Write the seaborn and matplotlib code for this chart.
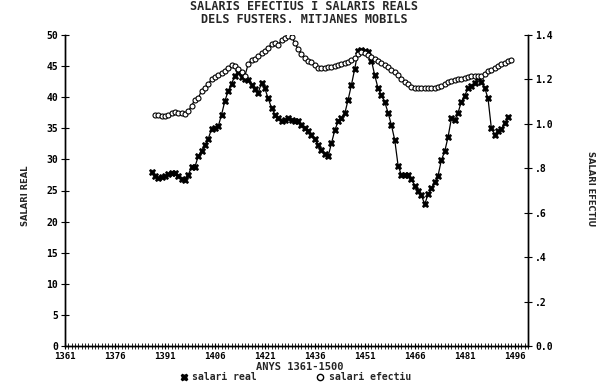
import numpy as np
import pandas as pd
import matplotlib
matplotlib.use("Agg")
import matplotlib.pyplot as plt
from matplotlib.lines import Line2D
import seaborn as sns

# ---------------- data ----------------
years_real = list(range(1387, 1495))
salari_real = [
    27.9, 27.4, 27.0, 27.1, 27.3, 27.6, 27.8, 27.8, 27.3, 26.8,
    26.7, 27.5, 28.8, 28.8, 30.5, 31.4, 32.3, 33.3, 34.9, 35.1,
    35.3, 37.2, 39.4, 41.0, 42.2, 43.4, 44.0, 43.3, 43.0, 42.8,
    42.0, 41.3, 40.7, 42.3, 41.4, 39.8, 38.3, 37.2, 36.6, 36.1,
    36.3, 36.6, 36.4, 36.2, 36.1, 35.5, 35.1, 34.5, 34.0, 33.2,
    32.3, 31.5, 30.8, 30.5, 32.6, 34.7, 36.1, 36.6, 37.4, 39.6,
    42.0, 44.6, 47.5, 47.6, 47.4, 47.3, 45.9, 43.5, 41.4, 40.3,
    39.2, 37.5, 35.5, 33.1, 29.0, 27.5, 27.5, 27.5, 26.8, 25.8,
    25.0, 24.2, 22.8, 24.4, 25.4, 26.3, 27.4, 29.9, 31.3, 33.6,
    36.6, 36.3, 37.5, 39.3, 40.2, 41.5, 41.8, 42.3, 43.3, 42.5,
    41.5, 39.8, 35.0, 34.0, 34.5, 34.9, 35.8, 36.8,
]

years_efectiu = list(range(1388, 1496))
salari_efectiu = [
    1.040, 1.038, 1.036, 1.036, 1.042, 1.049, 1.054, 1.051, 1.047, 1.046,
    1.056, 1.082, 1.108, 1.115, 1.150, 1.163, 1.180, 1.200, 1.210, 1.222,
    1.229, 1.240, 1.253, 1.264, 1.262, 1.248, 1.235, 1.215, 1.270, 1.286,
    1.292, 1.305, 1.320, 1.326, 1.343, 1.358, 1.363, 1.356, 1.376, 1.388,
    1.397, 1.393, 1.365, 1.335, 1.316, 1.295, 1.284, 1.277, 1.265, 1.253,
    1.250, 1.252, 1.256, 1.258, 1.262, 1.265, 1.270, 1.275, 1.280, 1.286,
    1.295, 1.315, 1.323, 1.318, 1.312, 1.302, 1.294, 1.284, 1.274, 1.264,
    1.254, 1.244, 1.233, 1.220, 1.204, 1.189, 1.179, 1.168, 1.160, 1.160,
    1.160, 1.160, 1.160, 1.160, 1.162, 1.166, 1.172, 1.180, 1.188, 1.193,
    1.197, 1.200, 1.204, 1.208, 1.211, 1.215, 1.216, 1.216, 1.214, 1.225,
    1.236, 1.244, 1.250, 1.260, 1.268, 1.276, 1.282, 1.288,
]

x_ticks = [1361, 1376, 1391, 1406, 1421, 1436, 1451, 1466, 1481, 1496]
left_ticks = [0, 5, 10, 15, 20, 25, 30, 35, 40, 45, 50]
right_ticks = [0.0, 0.2, 0.4, 0.6, 0.8, 1.0, 1.2, 1.4]
right_tick_labels = ["0.0", ".2", ".4", ".6", ".8", "1.0", "1.2", "1.4"]

title = "SALARIS EFECTIUS I SALARIS REALS\nDELS FUSTERS. MITJANES MOBILS"
xlabel = "ANYS 1361-1500"
ylabel_left = "SALARI REAL"
ylabel_right = "SALARI EFECTIU"
legend_labels = ["salari real", "salari efectiu"]

# ---------------- plotting ----------------
sns.set_theme(style="white")
plt.rcParams["font.family"] = ["DejaVu Sans Mono", "DejaVu Sans"]

df_real = pd.DataFrame({"any": years_real, "valor": salari_real})
df_ef = pd.DataFrame({"any": years_efectiu, "valor": salari_efectiu})

W, H = 614, 384
fig = plt.figure(figsize=(W / 100, H / 100), dpi=100)
L, R, T, B = 65, 528, 35, 346
ax = fig.add_axes([L / W, 1 - B / H, (R - L) / W, (B - T) / H])

sns.lineplot(data=df_real, x="any", y="valor", ax=ax, color="black",
             linewidth=0.9, marker="X", markersize=4.5,
             markerfacecolor="black", markeredgecolor="black",
             markeredgewidth=0.5)
ax2 = ax.twinx()
sns.lineplot(data=df_ef, x="any", y="valor", ax=ax2, color="black",
             linewidth=0.9, marker="o", markersize=3.6,
             markerfacecolor="white", markeredgecolor="black",
             markeredgewidth=0.8)

ax.set_xlim(1361, 1500)
ax.set_ylim(0, 50)
ax2.set_ylim(0, 1.4)

ax.set_xlabel("")
ax.set_ylabel("")
ax2.set_ylabel("")

for a in (ax, ax2):
    a.spines["top"].set_visible(False)
    for s in ("left", "right", "bottom"):
        a.spines[s].set_color("black")
        a.spines[s].set_linewidth(1.0)

ax.set_xticks(x_ticks)
ax.set_xticks(list(range(1361, 1501)), minor=True)
ax.set_yticks(left_ticks)
ax2.set_yticks(right_ticks)
ax2.set_yticklabels(right_tick_labels)

ax.tick_params(axis="x", which="major", bottom=True, direction="inout",
               length=5, width=0.8, labelsize=6.5, pad=2, colors="black")
ax.tick_params(axis="x", which="minor", bottom=True, direction="inout",
               length=4, width=0.6, colors="black")
ax.tick_params(axis="y", left=True, direction="inout", length=6,
               width=0.8, labelsize=7, pad=2, colors="black")
ax2.tick_params(axis="y", right=True, direction="inout", length=6,
                width=0.8, labelsize=7, pad=2, colors="black")
for lab in ax.get_xticklabels() + ax.get_yticklabels() + ax2.get_yticklabels():
    lab.set_fontweight("bold")

fig.text(304 / W, 1 - 13 / H, title, ha="center", va="center",
         fontsize=8.5, fontweight="bold", linespacing=1.05)
fig.text(25 / W, 1 - 196 / H, ylabel_left, rotation=90, ha="center",
         va="center", fontsize=6, fontweight="bold", family="DejaVu Sans")
fig.text(590 / W, 1 - 189 / H, ylabel_right, rotation=270, ha="center",
         va="center", fontsize=6, fontweight="bold", family="DejaVu Sans")
fig.text(300 / W, 1 - 366.5 / H, xlabel, ha="center", va="center",
         fontsize=7.5, fontweight="bold")

handles = [
    Line2D([], [], color="black", linestyle="none", marker="X",
           markersize=5, markerfacecolor="black"),
    Line2D([], [], color="black", linestyle="none", marker="o",
           markersize=4.5, markerfacecolor="white", markeredgewidth=1),
]
fig.legend(handles, legend_labels, loc="center",
           bbox_to_anchor=(295 / W, 1 - 377.5 / H), ncol=2, frameon=False,
           prop={"size": 7, "weight": "bold"}, handletextpad=0.4,
           columnspacing=6, handlelength=1.0, borderpad=0)

fig.savefig("out.png", dpi=100, facecolor="white")
